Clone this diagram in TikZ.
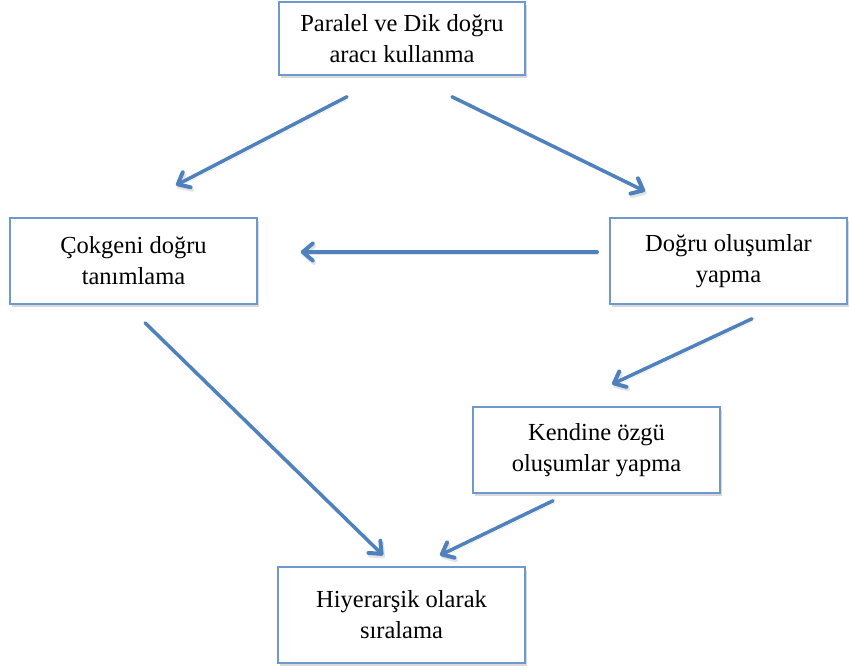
\documentclass[tikz,border=0pt]{standalone}
\usepackage{fontspec}
\setmainfont{Liberation Serif}
\usetikzlibrary{arrows.meta,shadows}

\definecolor{kutucizgi}{RGB}{111,152,207}
\definecolor{okrenk}{RGB}{79,129,189}

\tikzset{
  kutu/.style={draw=kutucizgi, line width=1.5pt, fill=white, align=center,
    inner sep=0pt, font=\fontsize{24.5}{31}\selectfont,
    drop shadow={shadow xshift=2pt, shadow yshift=-3pt, opacity=0.3}},
  ok/.style={draw=okrenk, line width=3.5pt, line cap=round,
    -{Straight Barb[length=10pt,width=17pt,line width=4pt,round]},
    preaction={draw=black!30, opacity=0.35, transform canvas={shift={(1.5pt,-2.5pt)}}}}
}

\begin{document}
\begin{tikzpicture}[x=1pt,y=-1pt]
\useasboundingbox (0,0) rectangle (849,670);

% kutular
\node[kutu, minimum width=246pt, minimum height=73pt] (paralel) at (402,38.5)
  {Paralel ve Dik doğru\\aracı kullanma};
\node[kutu, minimum width=247pt, minimum height=86pt] (cokgen) at (133.5,261)
  {Çokgeni doğru\\tanımlama};
\node[kutu, minimum width=237pt, minimum height=86pt] (olusum) at (728.5,261)
  {Doğru oluşumlar\\yapma};
\node[kutu, minimum width=247pt, minimum height=86pt] (kendine) at (596.5,450)
  {Kendine özgü\\oluşumlar\ yapma};
\node[kutu, minimum width=247pt, minimum height=96pt] (hiyerarsi) at (401.5,615)
  {Hiyerarşik olarak\\sıralama};

% oklar
\draw[ok] ([shift={(-55,21)}]paralel.south) -- ([shift={(42.5,-32)}]cokgen.north);
\draw[ok] ([shift={(50,21)}]paralel.south) -- ([shift={(-83.5,-26)}]olusum.north);
\draw[ok] ([shift={(-12,-9)}]olusum.west) -- ([shift={(43,-9)}]cokgen.east);
\draw[ok] ([shift={(11.5,18)}]cokgen.south) -- ([shift={(-18.5,-11)}]hiyerarsi.north);
\draw[ok] ([shift={(23.5,14)}]olusum.south) -- ([shift={(15.5,-22)}]kendine.north);
\draw[ok] ([shift={(-43.5,7)}]kendine.south) -- ([shift={(38.5,-11)}]hiyerarsi.north);
\end{tikzpicture}
\end{document}
